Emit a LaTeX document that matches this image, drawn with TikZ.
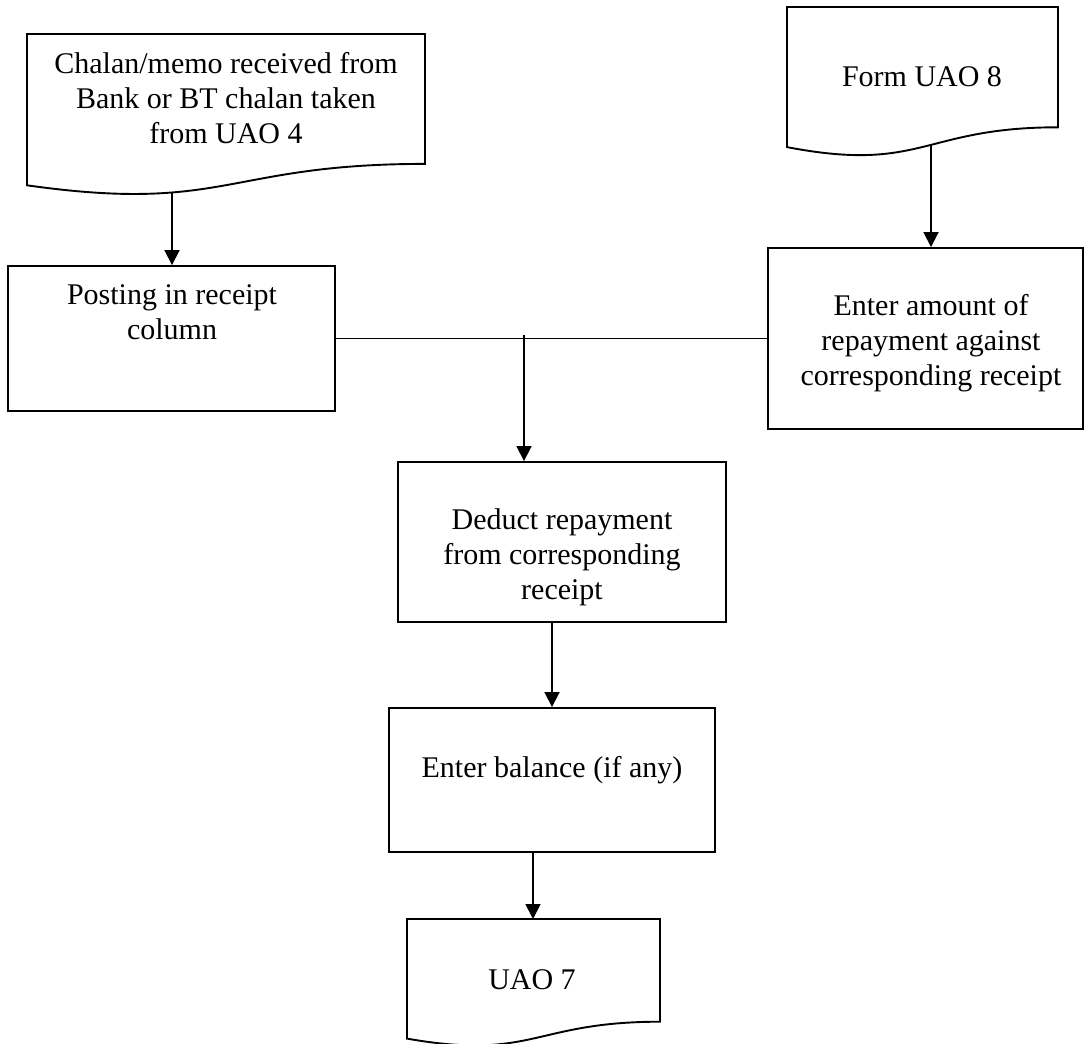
\documentclass[tikz,border=0pt]{standalone}
\usepackage{fontspec}
\setmainfont{Liberation Serif}
\usetikzlibrary{arrows.meta}
\begin{document}
\begin{tikzpicture}[x=1pt,y=-1pt,
  outline/.style={draw=black, line width=1.9pt},
  stepbox/.style={outline, rectangle, inner sep=0pt},
  txt/.style={font=\fontsize{30}{35}\selectfont, align=center, inner sep=0pt},
  arr/.style={line width=1.8pt, -{Triangle[width=15pt,length=15pt]}},
  link/.style={line width=1.8pt}]
\useasboundingbox (0,0) rectangle (1085,1044);

% document shapes (flat top, wavy bottom)
\draw[outline] (27,34) -- (425,34) -- (425,163.9)
  .. controls (226,163.9) and (226,213.5) .. (27,185.3) -- cycle;
\draw[outline] (787,7) -- (1058,7) -- (1058,127.3)
  .. controls (922.5,127.3) and (922.5,173.2) .. (787,147.1) -- cycle;
\draw[outline] (407,919) -- (660,919) -- (660,1021.7)
  .. controls (533.5,1021.7) and (533.5,1060.8) .. (407,1038.6) -- cycle;

\coordinate (chalanOut) at (172,192.5);
\coordinate (formOut) at (931,145);
\coordinate (uaoIn) at (533,919);

\node[txt] (chalan) at (226,98) {Chalan/memo received from\\Bank or BT chalan taken\\from UAO 4};
\node[txt] (form) at (922,77) {Form UAO 8};
\node[txt] (uao) at (532,980) {UAO 7};

% process boxes
\node[stepbox, minimum width=327pt, minimum height=145pt] (post) at (171.5,338.5) {};
\node[txt] (postText) at (172,312.5) {Posting in receipt\\column};

\node[stepbox, minimum width=315pt, minimum height=181pt] (amount) at (925.5,338.5) {};
\node[txt] (amountText) at (931,343) {Enter amount of\\repayment against\\corresponding receipt};

\node[stepbox, minimum width=328pt, minimum height=160pt] (deduct) at (562,542) {};
\node[txt] (deductText) at (562,557) {Deduct repayment\\from corresponding\\receipt};

\node[stepbox, minimum width=326pt, minimum height=144pt] (balance) at (552,780) {};
\node[txt] (balanceText) at (552,770) {Enter balance (if any)};

% connectors
\draw[arr] (chalanOut) -- (chalanOut |- post.north);
\draw[arr] (formOut) -- (formOut |- amount.north);
\draw[link] (post.east) -- (amount.west);
\coordinate (split) at (524,335);
\draw[arr] (split) -- (split |- deduct.north);
\draw[arr] (deduct.south -| balance.north) -- (balance.north);
\draw[arr] (balance.south -| uaoIn) -- (uaoIn);
\end{tikzpicture}
\end{document}
